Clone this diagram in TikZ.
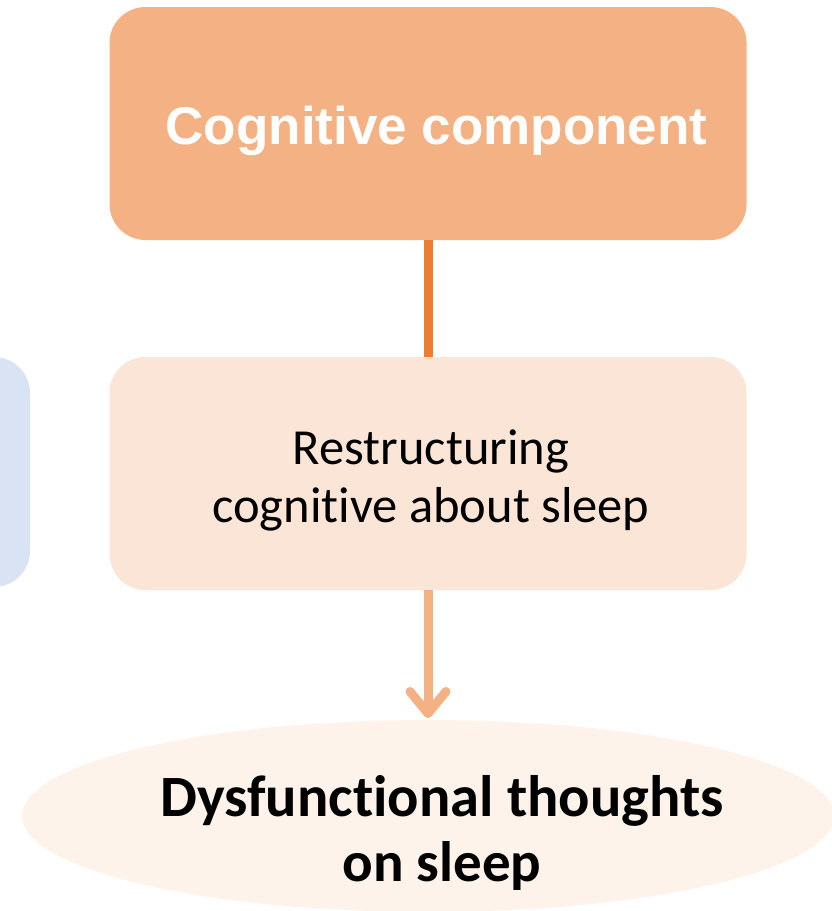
\documentclass[tikz,border=0pt]{standalone}
\usepackage{fontspec}
\setmainfont{Carlito}[Ligatures=NoCommon, RawFeature={-liga;-clig;-dlig}]
\newfontfamily\headfont{Liberation Sans}
\usetikzlibrary{arrows.meta,shapes.geometric}
\definecolor{darkpeach}{HTML}{F4B183}
\definecolor{lightpeach}{HTML}{FBE5D6}
\definecolor{palepeach}{HTML}{FDF3EA}
\definecolor{linkorange}{HTML}{ED7D31}
\definecolor{paleblue}{HTML}{DAE3F3}
\tikzset{
  box/.style={rectangle, rounded corners=36pt, inner sep=0pt, draw=none},
  link/.style={line width=9pt},
}
\begin{document}
\begin{tikzpicture}[x=1pt,y=-1pt]
\useasboundingbox (0,0) rectangle (832,911);
% left partial box
\node[box, fill=paleblue, minimum width=230pt, minimum height=230pt] (side) at (-85,472) {};
% top box
\node[box, fill=darkpeach, minimum width=637pt, minimum height=233pt] (top) at (428,123.5) {};
\node[anchor=base, inner sep=0pt, text=white, font=\headfont\bfseries\fontsize{53}{60}\selectfont] (toptext) at (436.5,144) {Cognitive component};
% middle box
\node[box, fill=lightpeach, minimum width=637pt, minimum height=233pt] (mid) at (428,473.5) {};
\node[inner sep=0pt, align=center, font=\fontsize{50.5}{58}\selectfont] (midtext) at (431,480) {Restructuring\\cognitive about sleep};
% ellipse
\node[ellipse, fill=palepeach, draw=none, minimum width=812pt, minimum height=192pt, inner sep=0pt] (ell) at (428,816) {};
\node[inner sep=0pt, align=center, font=\bfseries\fontsize{57}{65}\selectfont] (elltext) at (442,833) {{\fontsize{58.5}{65}\selectfont Dysfunctional thoughts}\\on sleep};
% connectors
\draw[link, draw=linkorange] (top.south) -- (mid.north);
\coordinate (tip) at (428,718);
\draw[link, draw=darkpeach, -{Straight Barb[length=22pt,width=36pt,round]}] (mid.south) -- (tip);
\end{tikzpicture}
\end{document}
